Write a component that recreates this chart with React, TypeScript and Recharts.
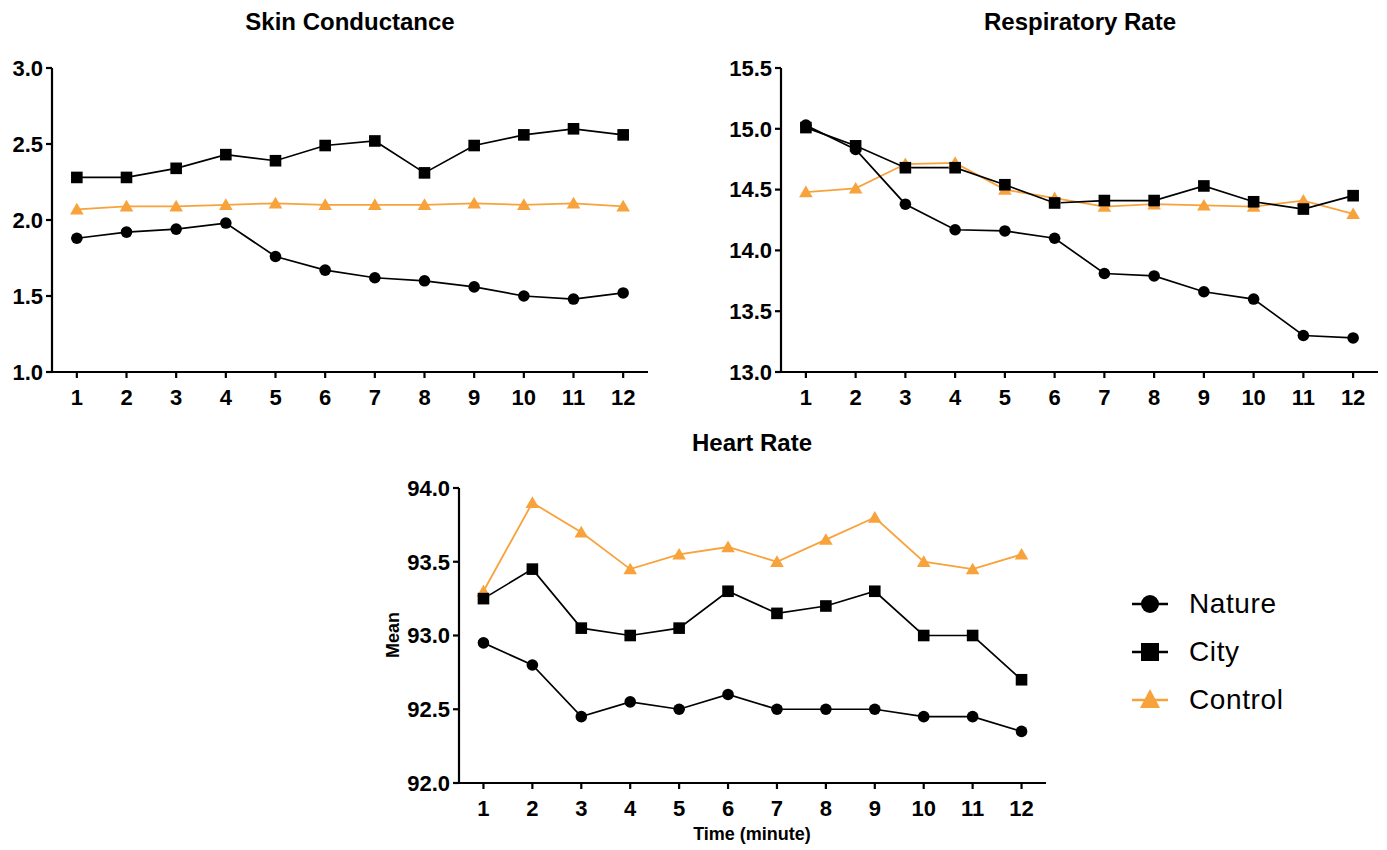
import React from "react";
import { LineChart, Line, XAxis, YAxis } from "recharts";

const minutes = [1, 2, 3, 4, 5, 6, 7, 8, 9, 10, 11, 12];

const skinNature = [1.88, 1.92, 1.94, 1.98, 1.76, 1.67, 1.62, 1.6, 1.56, 1.5, 1.48, 1.52];
const skinCity = [2.28, 2.28, 2.34, 2.43, 2.39, 2.49, 2.52, 2.31, 2.49, 2.56, 2.6, 2.56];
const skinControl = [2.07, 2.09, 2.09, 2.1, 2.11, 2.1, 2.1, 2.1, 2.11, 2.1, 2.11, 2.09];

const respNature = [15.03, 14.83, 14.38, 14.17, 14.16, 14.1, 13.81, 13.79, 13.66, 13.6, 13.3, 13.28];
const respCity = [15.01, 14.86, 14.68, 14.68, 14.54, 14.39, 14.41, 14.41, 14.53, 14.4, 14.34, 14.45];
const respControl = [14.48, 14.51, 14.71, 14.72, 14.5, 14.43, 14.36, 14.38, 14.37, 14.36, 14.41, 14.3];

const heartNature = [92.95, 92.8, 92.45, 92.55, 92.5, 92.6, 92.5, 92.5, 92.5, 92.45, 92.45, 92.35];
const heartCity = [93.25, 93.45, 93.05, 93.0, 93.05, 93.3, 93.15, 93.2, 93.3, 93.0, 93.0, 92.7];
const heartControl = [93.3, 93.9, 93.7, 93.45, 93.55, 93.6, 93.5, 93.65, 93.8, 93.5, 93.45, 93.55];

const skinTicks = [1.0, 1.5, 2.0, 2.5, 3.0];
const respTicks = [13.0, 13.5, 14.0, 14.5, 15.0, 15.5];
const heartTicks = [92.0, 92.5, 93.0, 93.5, 94.0];

const seriesNames = ["Nature", "City", "Control"];

const ORANGE = "#F8A23B";
const FONT = "'Liberation Sans', Arial, Helvetica, sans-serif";

const rows = (nature: number[], city: number[], control: number[]) =>
  minutes.map((m, i) => ({ minute: m, nature: nature[i], city: city[i], control: control[i] }));

const circleDot = (props: any) => {
  const { cx, cy, index } = props;
  if (cx == null || cy == null) return null;
  return <circle key={`c-${index}`} cx={cx} cy={cy} r={5.8} fill="#000" />;
};

const squareDot = (props: any) => {
  const { cx, cy, index } = props;
  if (cx == null || cy == null) return null;
  return <rect key={`s-${index}`} x={cx - 5.8} y={cy - 5.8} width={11.6} height={11.6} fill="#000" />;
};

const triangleDot = (props: any) => {
  const { cx, cy, index } = props;
  if (cx == null || cy == null) return null;
  return (
    <polygon
      key={`t-${index}`}
      points={`${cx},${cy - 6.5} ${cx + 6.8},${cy + 5.2} ${cx - 6.8},${cy + 5.2}`}
      fill={ORANGE}
    />
  );
};

const tickStyle = { fontSize: 22, fontWeight: 700, fill: "#000", fontFamily: FONT };
const axisStroke = { stroke: "#000", strokeWidth: 2.2 };

interface PanelProps {
  data: any[];
  ticks: number[];
  left: number;
  top: number;
  width: number;
  height: number;
  yWidth: number;
  marginTop: number;
  marginRight: number;
  xHeight: number;
}

function Panel({ data, ticks, left, top, width, height, yWidth, marginTop, marginRight, xHeight }: PanelProps) {
  return (
    <div style={{ position: "absolute", left, top }}>
      <LineChart
        width={width}
        height={height}
        data={data}
        margin={{ top: marginTop, right: marginRight, left: 0, bottom: 0 }}
      >
        <XAxis
          dataKey="minute"
          type="number"
          domain={[0.5, 12.5]}
          ticks={minutes}
          allowDataOverflow
          axisLine={axisStroke}
          tickLine={axisStroke}
          tickSize={6}
          tickMargin={11}
          tick={tickStyle}
          height={xHeight}
          interval={0}
        />
        <YAxis
          type="number"
          domain={[ticks[0], ticks[ticks.length - 1]]}
          ticks={ticks}
          allowDataOverflow
          axisLine={axisStroke}
          tickLine={axisStroke}
          tickSize={6}
          tickMargin={3}
          tick={tickStyle}
          width={yWidth}
          interval={0}
          tickFormatter={(v: number) => v.toFixed(1)}
        />
        <Line
          dataKey="control"
          type="linear"
          stroke={ORANGE}
          strokeWidth={1.8}
          dot={triangleDot}
          activeDot={false}
          isAnimationActive={false}
        />
        <Line
          dataKey="city"
          type="linear"
          stroke="#000"
          strokeWidth={1.7}
          dot={squareDot}
          activeDot={false}
          isAnimationActive={false}
        />
        <Line
          dataKey="nature"
          type="linear"
          stroke="#000"
          strokeWidth={1.7}
          dot={circleDot}
          activeDot={false}
          isAnimationActive={false}
        />
      </LineChart>
    </div>
  );
}

const titleStyle: React.CSSProperties = {
  position: "absolute",
  fontFamily: FONT,
  fontWeight: 700,
  fontSize: 24,
  color: "#000",
  transform: "translate(-50%, -50%)",
  whiteSpace: "nowrap",
};

function LegendIcon({ kind }: { kind: string }) {
  const color = kind === "Control" ? ORANGE : "#000";
  return (
    <svg width={36} height={24} style={{ display: "block" }}>
      <line x1={0} y1={12} x2={36} y2={12} stroke={color} strokeWidth={2.5} />
      {kind === "Nature" && <circle cx={18} cy={12} r={9} fill={color} />}
      {kind === "City" && <rect x={9} y={3} width={18} height={18} fill={color} />}
      {kind === "Control" && <polygon points="18,1 28,20 8,20" fill={color} />}
    </svg>
  );
}

export default function App() {
  return (
    <div style={{ position: "absolute", left: 0, top: 0, width: 1387, height: 850, background: "#fff", overflow: "hidden" }}>
      <div style={{ ...titleStyle, left: 350, top: 22 }}>Skin Conductance</div>
      <div style={{ ...titleStyle, left: 1080, top: 22 }}>Respiratory Rate</div>
      <div style={{ ...titleStyle, left: 752, top: 443 }}>Heart Rate</div>

      <Panel
        data={rows(skinNature, skinCity, skinControl)}
        ticks={skinTicks}
        left={0}
        top={0}
        width={680}
        height={420}
        yWidth={52}
        marginTop={68}
        marginRight={32}
        xHeight={48}
      />
      <Panel
        data={rows(respNature, respCity, respControl)}
        ticks={respTicks}
        left={720}
        top={0}
        width={667}
        height={420}
        yWidth={61}
        marginTop={68}
        marginRight={9}
        xHeight={48}
      />
      <Panel
        data={rows(heartNature, heartCity, heartControl)}
        ticks={heartTicks}
        left={370}
        top={430}
        width={700}
        height={400}
        yWidth={89}
        marginTop={58}
        marginRight={24}
        xHeight={47}
      />

      <div
        style={{
          position: "absolute",
          left: 393,
          top: 635,
          transform: "translate(-50%, -50%) rotate(-90deg)",
          fontFamily: FONT,
          fontWeight: 700,
          fontSize: 18,
        }}
      >
        Mean
      </div>
      <div
        style={{
          position: "absolute",
          left: 752,
          top: 834,
          transform: "translate(-50%, -50%)",
          fontFamily: FONT,
          fontWeight: 700,
          fontSize: 18,
          whiteSpace: "nowrap",
        }}
      >
        Time (minute)
      </div>

      <div style={{ position: "absolute", left: 1132, top: 580 }}>
        {seriesNames.map((name) => (
          <div key={name} style={{ display: "flex", alignItems: "center", height: 48 }}>
            <LegendIcon kind={name} />
            <span
              style={{
                marginLeft: 21,
                fontFamily: FONT,
                fontSize: 28,
                letterSpacing: 0.6,
                color: "#000",
                lineHeight: "36px",
              }}
            >
              {name}
            </span>
          </div>
        ))}
      </div>
    </div>
  );
}
